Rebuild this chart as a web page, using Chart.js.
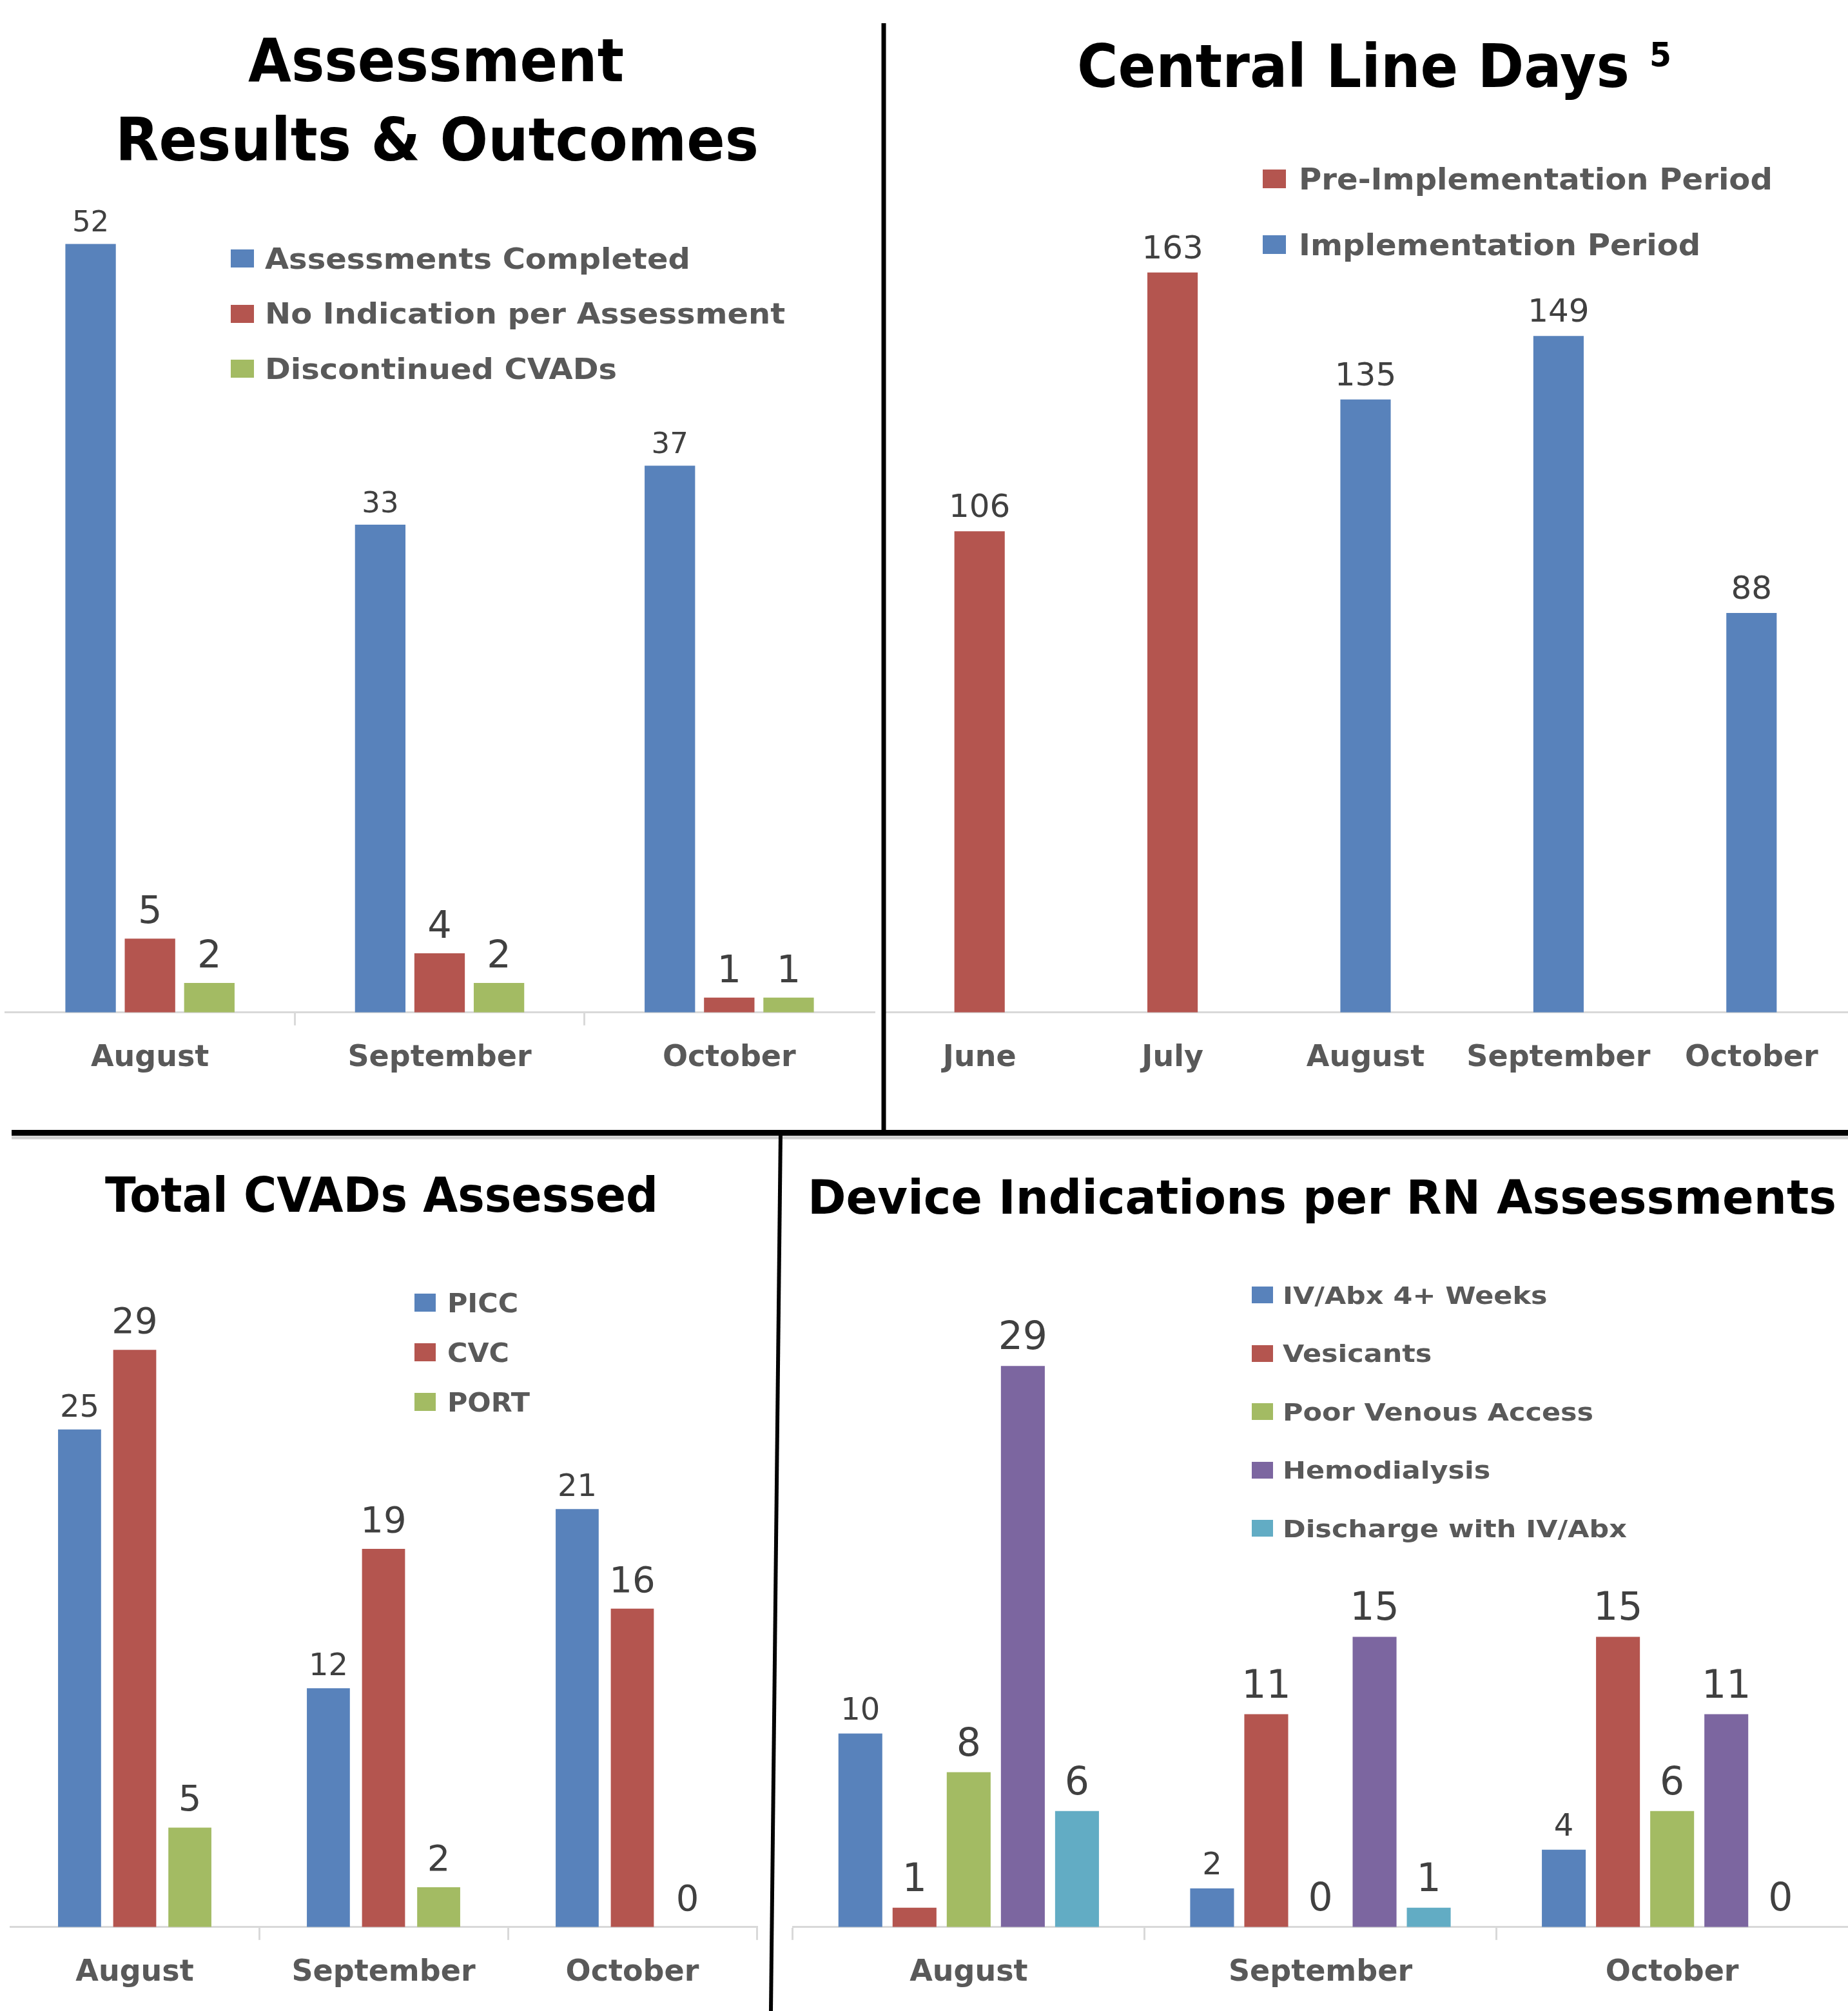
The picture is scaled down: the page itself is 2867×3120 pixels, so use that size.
<!DOCTYPE html>
<html>
<head>
<meta charset="utf-8">
<script src="https://cdn.jsdelivr.net/npm/chart.js@4.4.1/dist/chart.umd.min.js"></script>
<style>
  html, body { margin: 0; padding: 0; background: #fff; }
  #page { position: relative; width: 2867px; height: 3120px; overflow: hidden; background: #fff; }
  canvas { position: absolute; }
  .txt { position: absolute; white-space: nowrap; line-height: 1; font-family: 'DejaVu Sans'; font-weight: bold; transform-origin: 0 0; }
  .swatch { position: absolute; }
  svg { position: absolute; left: 0; top: 0; }
</style>
</head>
<body>
<div id="page">
  <canvas id="assess" width="1370" height="1694" style="left:0;top:0"></canvas>
  <canvas id="lineDays" width="1497" height="1694" style="left:1370px;top:0"></canvas>
  <canvas id="cvads" width="1200" height="1353" style="left:0;top:1760px"></canvas>
  <canvas id="indications" width="1657" height="1353" style="left:1210px;top:1760px"></canvas>
  <svg width="2867" height="3120">
    <line x1="1371" y1="36" x2="1371" y2="1757" stroke="#000" stroke-width="7"/>
    <line x1="18" y1="1765" x2="2867" y2="1765" stroke="#cfcfcf" stroke-width="5"/>
    <line x1="18" y1="1757.5" x2="2867" y2="1757.5" stroke="#000" stroke-width="9"/>
    <line x1="1211" y1="1757" x2="1196" y2="3120" stroke="#000" stroke-width="6"/>
  </svg>
</div>
<script>
// ---- data ----
const months3 = ['August', 'September', 'October'];
const assessCompleted = [52, 33, 37];
const noIndication = [5, 4, 1];
const discontinued = [2, 2, 1];

const lineMonths = ['June', 'July', 'August', 'September', 'October'];
const preImplementation = [106, 163, null, null, null];
const implementation = [null, null, 135, 149, 88];

const picc = [25, 12, 21];
const cvc = [29, 19, 16];
const port = [5, 2, 0];

const ivAbx4Weeks = [10, 2, 4];
const vesicants = [1, 11, 15];
const poorVenousAccess = [8, 0, 6];
const hemodialysis = [29, 15, 11];
const dischargeIvAbx = [6, 1, 0];

const BLUE = '#5882bb', RED = '#b4554f', GREEN = '#a3bb63', PURPLE = '#7c66a0', CYAN = '#62acc4';
const AXIS_GRAY = '#d9d9d9', TEXT_GRAY = '#595959', LABEL_GRAY = '#404040';

// value labels above bars
const valueLabels = {
  id: 'valueLabels',
  afterDatasetsDraw(chart) {
    const ctx = chart.ctx;
    chart.data.datasets.forEach((ds, i) => {
      chart.getDatasetMeta(i).data.forEach((bar, j) => {
        const v = ds.data[j];
        if (v === null || v === undefined) return;
        ctx.save();
        ctx.font = ds.labelSize + 'px "DejaVu Sans"';
        ctx.fillStyle = LABEL_GRAY;
        ctx.textAlign = 'center';
        ctx.textBaseline = 'alphabetic';
        ctx.fillText(String(v), bar.x, bar.y - ds.labelGap);
        ctx.restore();
      });
    });
  }
};

function series(label, data, color, labelSize, labelGap) {
  return { label, data, backgroundColor: color, borderWidth: 0, labelSize, labelGap };
}

function barChart(id, labels, datasets, o) {
  const n = labels.length;
  return new Chart(document.getElementById(id), {
    type: 'bar',
    data: { labels, datasets },
    options: {
      responsive: false,
      animation: false,
      layout: { padding: o.padding },
      plugins: { legend: { display: false }, title: { display: false }, tooltip: { enabled: false } },
      datasets: { bar: { categoryPercentage: o.catPct, barPercentage: o.barPct, skipNull: true } },
      scales: {
        x: {
          grid: {
            drawOnChartArea: false, drawTicks: true, tickLength: 20, lineWidth: 3,
            color: c => o.ticks.includes(c.type === 'tick' ? c.index : n) ? AXIS_GRAY : 'rgba(0,0,0,0)'
          },
          border: { display: true, color: AXIS_GRAY, width: 3 },
          ticks: {
            color: TEXT_GRAY, padding: 24,
            font: { family: 'DejaVu Sans', weight: 'bold', size: 46, lineHeight: 1.2 }
          }
        },
        y: { display: false, min: 0, max: o.yMax }
      }
    },
    plugins: [valueLabels]
  });
}

const charts = {};

charts.assess = barChart('assess', months3, [
  series('Assessments Completed', assessCompleted, BLUE, 45, 19),
  series('No Indication per Assessment', noIndication, RED, 59, 24),
  series('Discontinued CVADs', discontinued, GREEN, 59, 24)
], { padding: { top: 195, left: 8, right: 14, bottom: 0 }, catPct: 0.615, barPct: 0.85, yMax: 60, ticks: [1, 2] });

charts.lineDays = barChart('lineDays', lineMonths, [
  series('Pre-Implementation Period', preImplementation, RED, 50, 22),
  series('Implementation Period', implementation, BLUE, 50, 22)
], { padding: { top: 162, left: 0, right: 0, bottom: 0 }, catPct: 0.3, barPct: 0.87, yMax: 200, ticks: [] });

charts.cvads = barChart('cvads', months3, [
  series('PICC', picc, BLUE, 48, 20),
  series('CVC', cvc, RED, 56, 26),
  series('PORT', port, GREEN, 56, 26)
], { padding: { top: 149, left: 16, right: 26, bottom: 0 }, catPct: 0.665, barPct: 0.78, yMax: 35, ticks: [1, 2, 3] });

charts.indications = barChart('indications', months3, [
  series('IV/Abx 4+ Weeks', ivAbx4Weeks, BLUE, 48, 22),
  series('Vesicants', vesicants, RED, 60, 26),
  series('Poor Venous Access', poorVenousAccess, GREEN, 60, 26),
  series('Hemodialysis', hemodialysis, PURPLE, 60, 26),
  series('Discharge with IV/Abx', dischargeIvAbx, CYAN, 60, 26)
], { padding: { top: 179, left: 20, right: 0, bottom: 0 }, catPct: 0.77, barPct: 0.81, yMax: 35, ticks: [0, 1, 2] });

// ---- titles and legends (HTML text) ----
const page = document.getElementById('page');

function addText(text, o) {
  const el = document.createElement('div');
  el.className = 'txt';
  el.textContent = text;
  el.style.fontSize = o.size + 'px';
  el.style.color = o.color || '#000';
  el.style.fontWeight = o.weight || 'bold';
  page.appendChild(el);
  const natural = el.getBoundingClientRect().width;
  const k = o.width ? o.width / natural : (o.scale || 1);
  const left = o.cx !== undefined ? o.cx - natural * k / 2 : o.x;
  el.style.left = left + 'px';
  el.style.top = (o.baseline - 0.846 * o.size) + 'px';
  el.style.transform = 'scaleX(' + k + ')';
}

addText('Assessment', { cx: 676, baseline: 127, size: 92, width: 583 });
addText('Results & Outcomes', { cx: 678, baseline: 250, size: 92, width: 998 });
addText('Central Line Days', { x: 1671, baseline: 136, size: 92, width: 857 });
addText('5', { x: 2559, baseline: 103, size: 52, width: 34 });
addText('Total CVADs Assessed', { x: 163, baseline: 1880, size: 75, width: 858 });
addText('Device Indications per RN Assessments', { x: 1253, baseline: 1883, size: 73, width: 1596 });

function addLegend(chart, o) {
  chart.data.datasets.forEach((ds, i) => {
    const cy = o.y0 + i * o.step;
    const sw = document.createElement('div');
    sw.className = 'swatch';
    sw.style.left = o.x + 'px';
    sw.style.top = (cy - o.box[1] / 2) + 'px';
    sw.style.width = o.box[0] + 'px';
    sw.style.height = o.box[1] + 'px';
    sw.style.background = ds.backgroundColor;
    page.appendChild(sw);
    addText(ds.label, { x: o.textX, baseline: cy + o.size * 0.365, size: o.size, scale: o.scale, color: TEXT_GRAY });
  });
}

addLegend(charts.assess, { x: 358, y0: 401, step: 85.5, box: [36, 28], textX: 411, size: 44, scale: 1.09 });
addLegend(charts.lineDays, { x: 1959, y0: 277, step: 102, box: [36, 29], textX: 2015, size: 46, scale: 1.046 });
addLegend(charts.cvads, { x: 643, y0: 2021, step: 77, box: [33, 28], textX: 694, size: 40, scale: 1.07 });
addLegend(charts.indications, { x: 1942, y0: 2009, step: 90.5, box: [33, 26], textX: 1990, size: 38, scale: 1.13 });
</script>
</body>
</html>
